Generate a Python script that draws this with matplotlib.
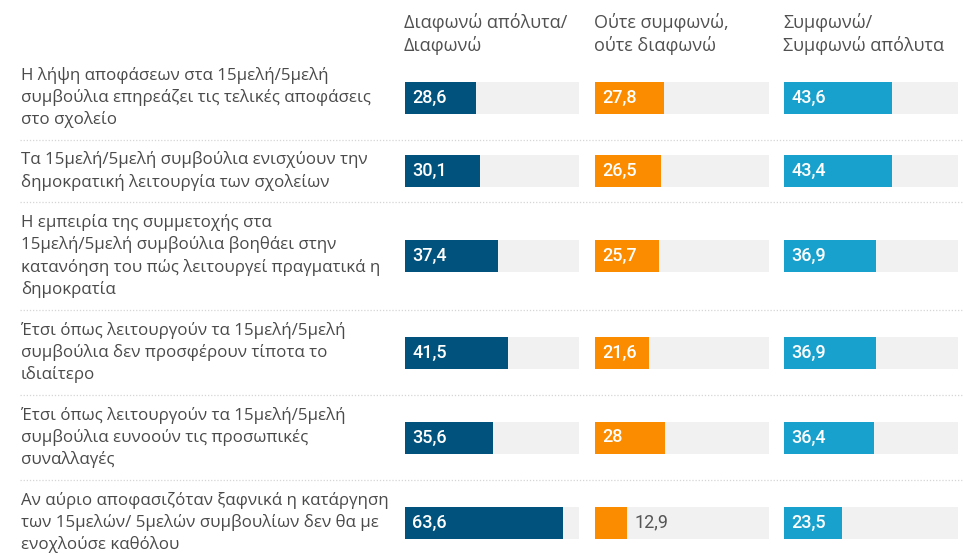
import matplotlib
matplotlib.use("Agg")
import matplotlib.pyplot as plt

plt.rcParams['font.family'] = ['Open Sans', 'DejaVu Sans']

# ----------------------- Data -----------------------
statements = [
    "Η λήψη αποφάσεων στα 15μελή/5μελή\nσυμβούλια επηρεάζει τις τελικές αποφάσεις\nστο σχολείο",
    "Τα 15μελή/5μελή συμβούλια ενισχύουν την\nδημοκρατική λειτουργία των σχολείων",
    "Η εμπειρία της συμμετοχής στα\n15μελή/5μελή συμβούλια βοηθάει στην\nκατανόηση του πώς λειτουργεί πραγματικά η\nδημοκρατία",
    "Έτσι όπως λειτουργούν τα 15μελή/5μελή\nσυμβούλια δεν προσφέρουν τίποτα το\nιδιαίτερο",
    "Έτσι όπως λειτουργούν τα 15μελή/5μελή\nσυμβούλια ευνοούν τις προσωπικές\nσυναλλαγές",
    "Αν αύριο αποφασιζόταν ξαφνικά η κατάργηση\nτων 15μελών/ 5μελών συμβουλίων δεν θα με\nενοχλούσε καθόλου",
]
headers = ["Διαφωνώ απόλυτα/\nΔιαφωνώ", "Ούτε συμφωνώ,\nούτε διαφωνώ", "Συμφωνώ/\nΣυμφωνώ απόλυτα"]
disagree = [28.6, 30.1, 37.4, 41.5, 35.6, 63.6]
neutral = [27.8, 26.5, 25.7, 21.6, 28, 12.9]
agree = [43.6, 43.4, 36.9, 36.9, 36.4, 23.5]
columns = [disagree, neutral, agree]
colors = ["#01527c", "#fb8c00", "#18a1cd"]

# ----------------------- Layout (pixels) -----------------------
W, H = 963, 555
SCALE_MAX = 70
col_x = [405, 595, 784]
col_w = 174
bar_h = 32
line_h = 23
top = 55

centers, seps = [], []
y = top
for s in statements:
    n = s.count("\n") + 1
    h = 16 + line_h * n
    centers.append(y + h / 2)
    y += h
    seps.append(y)

fig = plt.figure(figsize=(W / 100, H / 100), dpi=100)

# base axes in pixel units for text + separators
base = fig.add_axes([0, 0, 1, 1])
base.set_xlim(0, W)
base.set_ylim(H, 0)
base.axis("off")

for s, c in zip(statements, centers):
    base.text(21, c, s, fontsize=12.2, color="#4a4a4a", va="center", ha="left",
              linespacing=1.42)
for sp in seps[:-1]:
    base.plot([20, W], [sp, sp], color="#d5d5d5", lw=0.9, linestyle=(0, (1, 1.5)))
for x, hd in zip(col_x, headers):
    base.text(x - 1, 34, hd, fontsize=13, color="#505050", va="center", ha="left",
              linespacing=1.27)

# bar columns
for x, vals, col in zip(col_x, columns, colors):
    ax = fig.add_axes([x / W, 0, col_w / W, 1])
    ax.set_xlim(0, SCALE_MAX)
    ax.set_ylim(H, 0)
    ax.axis("off")
    ax.barh(centers, [SCALE_MAX] * len(vals), height=bar_h, color="#f1f1f1", lw=0)
    ax.barh(centers, vals, height=bar_h, color=col, lw=0)
    for v, c in zip(vals, centers):
        lbl = f"{v:g}".replace(".", ",")
        if v < 15:
            ax.annotate(lbl, xy=(v, c), xytext=(7, 0), textcoords="offset pixels",
                        va="center", ha="left", fontsize=13, color="#555555",
                        family="Roboto")
        else:
            ax.annotate(lbl, xy=(0, c), xytext=(7, 0), textcoords="offset pixels",
                        va="center", ha="left", fontsize=13, color="white",
                        fontweight="medium", family="Roboto")

fig.savefig("out.png", dpi=100)
